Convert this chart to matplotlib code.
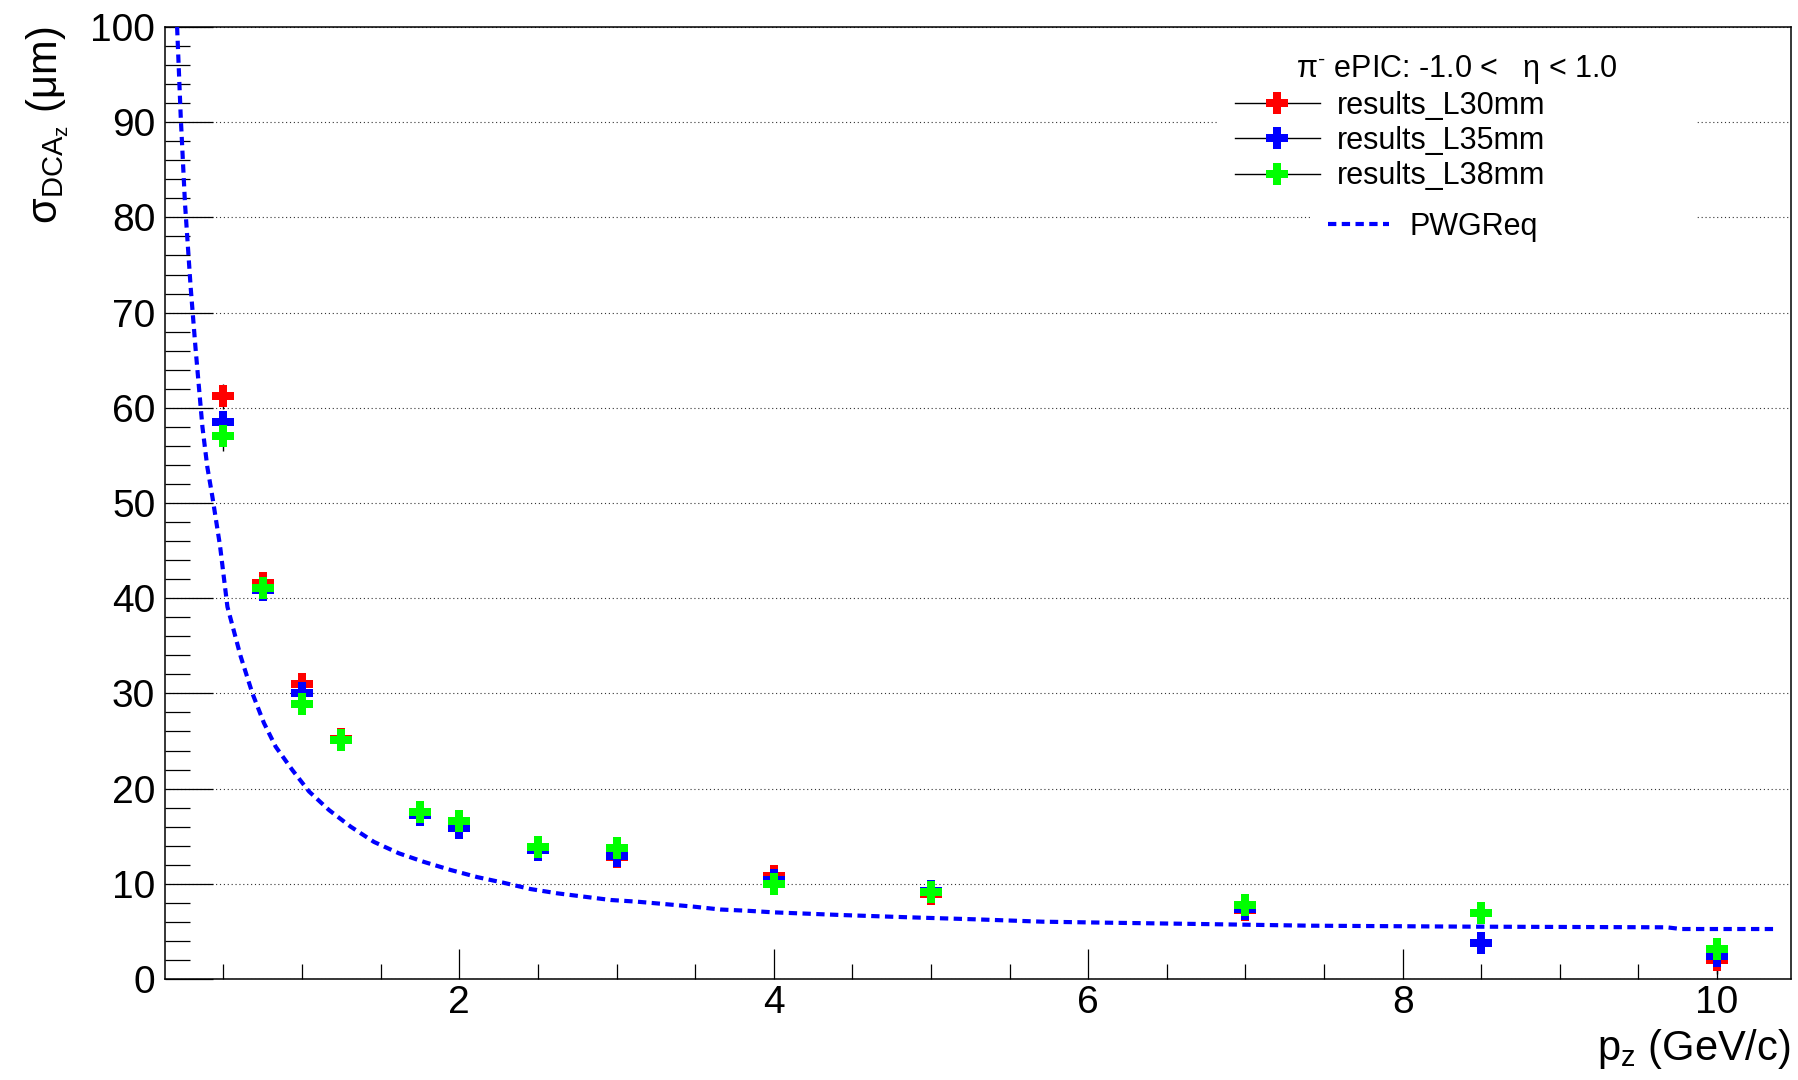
import matplotlib
matplotlib.use('Agg')
import matplotlib.pyplot as plt
from matplotlib.lines import Line2D
from matplotlib.ticker import MultipleLocator

plt.rcParams['font.family'] = ['Liberation Sans', 'DejaVu Sans']
plt.rcParams['mathtext.fontset'] = 'custom'
plt.rcParams['mathtext.rm'] = 'Liberation Sans'
plt.rcParams['mathtext.it'] = 'Liberation Sans:italic'

# momentum points (GeV/c)
p_z = [0.5, 0.75, 1.0, 1.25, 1.75, 2.0, 2.5, 3.0, 4.0, 5.0, 7.0, 8.5, 10.0]

# sigma DCA_z (um) for the three layouts
sig_L30 = [61.2, 41.6, 31.0, 25.2, 17.4, 16.2, 13.5, 12.8, 10.8, 8.9, 7.2, 6.9, 2.0]
sig_L35 = [58.5, 40.9, 30.0, 25.1, 17.2, 15.9, 13.6, 12.9, 10.4, 9.2, 7.4, 3.8, 2.4]
sig_L38 = [57.0, 41.1, 28.9, 25.1, 17.5, 16.6, 13.9, 13.8, 10.0, 9.1, 7.8, 6.9, 3.1]
err_L30 = [1.3, 0.4, 0.4, 0.3, 0.3, 0.3, 0.3, 0.3, 0.3, 0.3, 0.3, 0.3, 1.5]
err_L35 = [1.0, 0.4, 0.4, 0.3, 0.3, 0.3, 0.3, 0.3, 0.3, 0.3, 0.3, 0.3, 0.5]
err_L38 = [1.5, 0.4, 0.4, 0.3, 0.3, 0.3, 0.3, 0.3, 0.3, 0.3, 0.3, 0.3, 0.5]

# PWG requirement curve
req_p = [0.205, 0.228, 0.255, 0.291, 0.323, 0.366, 0.397, 0.429, 0.478, 0.525,
         0.609, 0.684, 0.757, 0.832, 0.938, 1.044, 1.171, 1.309, 1.457, 1.616,
         1.775, 1.945, 2.115, 2.284, 2.453, 2.623, 2.792, 2.962, 3.132, 3.30,
         3.49, 3.66, 3.83, 4.0, 4.43, 4.86, 5.28, 5.71, 6.14, 6.70, 7.41, 8.41,
         9.68, 9.77, 10.38]
req_sigma = [100.0, 90.6, 81.5, 72.7, 66.1, 58.0, 53.8, 50.7, 45.5, 39.1,
             33.9, 30.0, 26.9, 24.4, 21.95, 19.7, 17.75, 16.0, 14.4, 13.2,
             12.3, 11.45, 10.7, 10.1, 9.45, 9.0, 8.65, 8.3, 8.12, 7.88,
             7.6, 7.3, 7.17, 7.0, 6.72, 6.48, 6.27, 6.02, 5.91, 5.78, 5.6, 5.5,
             5.43, 5.25, 5.25]

series = [
    ('results_L30mm', sig_L30, err_L30, '#ff0000'),
    ('results_L35mm', sig_L35, err_L35, '#0000ff'),
    ('results_L38mm', sig_L38, err_L38, '#00ff00'),
]
req_lw = 3.0
req_dashes = (2.0, 1.3)

fig = plt.figure(figsize=(17.98, 10.8), dpi=100)
W, H = 1798.0, 1080.0
ax = fig.add_axes([165 / W, 1 - 979 / H, (1791 - 165) / W, (979 - 27) / H])

ax.plot(req_p, req_sigma, color='#0000ff', lw=req_lw, dashes=req_dashes, zorder=3)

handles = []
for name, vals, errs, col in series:
    ax.errorbar(p_z, vals, yerr=errs, fmt='P', color=col, ecolor='black',
                elinewidth=1.0, capsize=5, capthick=1.0, markersize=16,
                markeredgewidth=0, zorder=4)
    handles.append(Line2D([], [], color='black', lw=1.0, marker='P',
                          markerfacecolor=col, markeredgewidth=0, markersize=16))

ax.set_xlim(0.128, 10.47)
ax.set_ylim(0, 100)
ax.xaxis.set_major_locator(MultipleLocator(2))
ax.xaxis.set_minor_locator(MultipleLocator(0.5))
ax.yaxis.set_major_locator(MultipleLocator(10))
ax.yaxis.set_minor_locator(MultipleLocator(2))

ax.tick_params(axis='both', which='both', direction='in', top=False, right=False,
               width=0.9, labelsize=28)
ax.tick_params(axis='y', which='major', length=34.6, pad=7)
ax.tick_params(axis='y', which='minor', length=18)
ax.tick_params(axis='x', which='major', length=21.6, pad=4)
ax.tick_params(axis='x', which='minor', length=10.8)
for s in ax.spines.values():
    s.set_linewidth(1.1)

ax.yaxis.grid(True, which='major', color='#333333', lw=0.8,
              linestyle=(0, (1, 2.5)), zorder=1)
ax.set_axisbelow(True)

ax.set_xlabel(r'p$_{\mathrm{z}}$ (GeV/c)', fontsize=30, loc='right')
ax.xaxis.set_label_coords(1.0, -0.050)
ax.set_ylabel(r'σ$_{\mathrm{DCA_{z}}}$ (μm)', fontsize=30, loc='top')
ax.yaxis.set_label_coords(-0.058, 1.0)

header = r'π$^{\text{-}}$ ePIC: -1.0 <   η < 1.0'
leg1 = ax.legend(handles, [s[0] for s in series], title=header,
                 loc='upper left', bbox_to_anchor=(1218 / W, 1 - 36 / H, (1696 - 1218) / W, 0),
                 bbox_transform=fig.transFigure, mode='expand', borderaxespad=0,
                 fontsize=22, title_fontsize=22, borderpad=0.55, handlelength=2.78,
                 handletextpad=0.55, labelspacing=0.17, numpoints=1,
                 frameon=True, fancybox=False, framealpha=1,
                 facecolor='white', edgecolor='none')
ax.add_artist(leg1)

req_handle = Line2D([], [], color='#0000ff', lw=req_lw, dashes=req_dashes)
leg2 = ax.legend([req_handle], ['PWGReq'],
                 loc='upper left', bbox_to_anchor=(1311 / W, 1 - 195 / H, (1696 - 1311) / W, 0),
                 bbox_transform=fig.transFigure, mode='expand', borderaxespad=0,
                 fontsize=22, borderpad=0.55, handlelength=2.0, handletextpad=0.67,
                 frameon=True, fancybox=False, framealpha=1,
                 facecolor='white', edgecolor='none')

fig.savefig('out.png', dpi=100)
